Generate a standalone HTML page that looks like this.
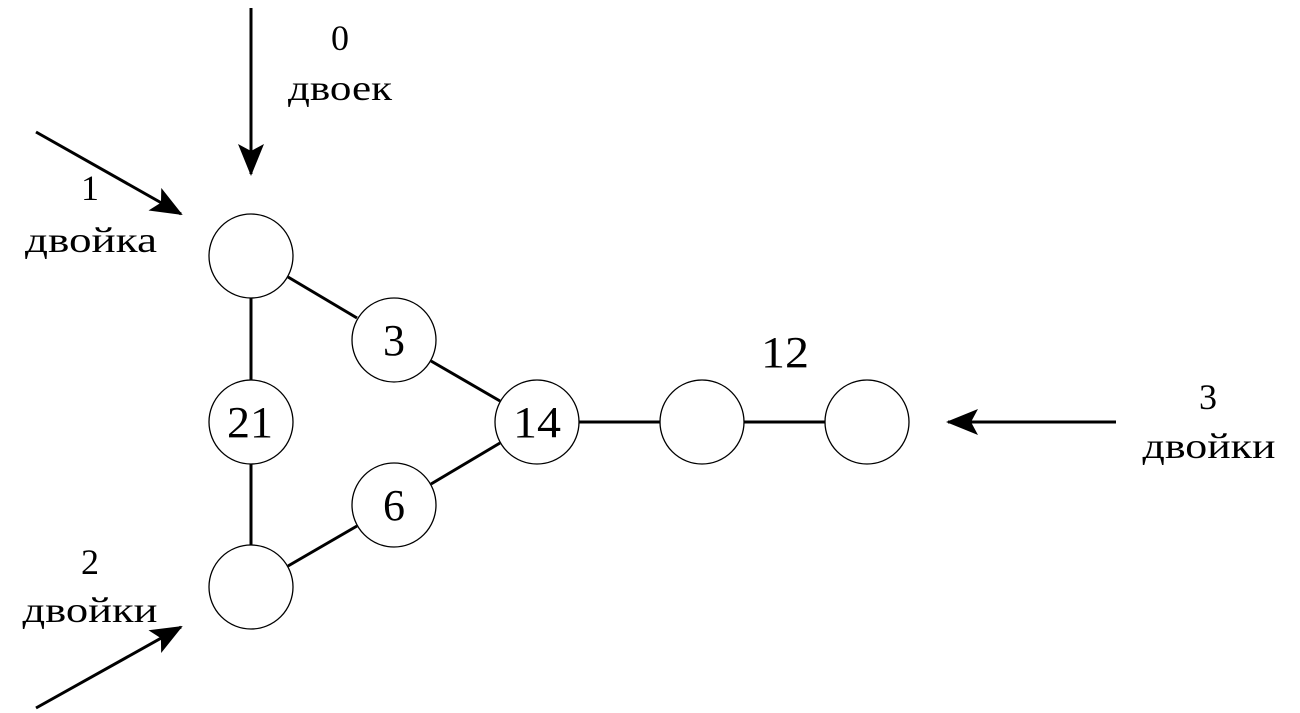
<!DOCTYPE html>
<html><head><meta charset="utf-8"><style>
html,body{margin:0;padding:0;background:#fff;}
svg{display:block;}
text{font-family:"Liberation Serif","DejaVu Serif",serif;fill:#000;}
</style></head><body>
<svg width="1300" height="713" viewBox="0 0 1300 713" xmlns="http://www.w3.org/2000/svg">
<defs>
<marker id="ah" viewBox="0 0 32 26" refX="30" refY="13" markerWidth="32" markerHeight="26" markerUnits="userSpaceOnUse" orient="auto">
<path d="M0,0 L32,13 L0,26 L7,13 Z" fill="#000"/>
</marker>
</defs>
<g stroke="#000" stroke-width="3" fill="none">
<line x1="251" y1="298" x2="251" y2="380"/>
<line x1="251" y1="464" x2="251" y2="545"/>
<line x1="288" y1="277" x2="357" y2="318"/>
<line x1="431" y1="361" x2="500" y2="401"/>
<line x1="288" y1="566" x2="357" y2="526"/>
<line x1="431" y1="484" x2="500" y2="443"/>
<line x1="579" y1="422" x2="660" y2="422"/>
<line x1="744" y1="422" x2="825" y2="422"/>
<line x1="251" y1="8" x2="251" y2="174" marker-end="url(#ah)"/>
<line x1="36" y1="132" x2="181" y2="214" marker-end="url(#ah)"/>
<line x1="36" y1="708" x2="181" y2="627" marker-end="url(#ah)"/>
<line x1="1116" y1="422" x2="948" y2="422" marker-end="url(#ah)"/>
</g>
<g stroke="#000" stroke-width="1.3" fill="#fff">
<circle cx="251" cy="256" r="42"/>
<circle cx="251" cy="422" r="42"/>
<circle cx="251" cy="587" r="42"/>
<circle cx="394" cy="340" r="42"/>
<circle cx="394" cy="505" r="42"/>
<circle cx="537" cy="422" r="42"/>
<circle cx="702" cy="422" r="42"/>
<circle cx="867" cy="422" r="42"/>
</g>
<g font-size="44" text-anchor="middle">
<text x="250" y="437" textLength="46" lengthAdjust="spacingAndGlyphs">21</text>
<text x="394" y="355">3</text>
<text x="394" y="520">6</text>
<text x="537" y="437" textLength="48" lengthAdjust="spacingAndGlyphs">14</text>
<text x="785" y="367" textLength="48" lengthAdjust="spacingAndGlyphs">12</text>
</g>
<g font-size="36" text-anchor="middle">
<text x="340" y="50">0</text>
<text x="340" y="100" textLength="104" lengthAdjust="spacingAndGlyphs">двоек</text>
<text x="90" y="200">1</text>
<text x="91" y="252" textLength="132" lengthAdjust="spacingAndGlyphs">двойка</text>
<text x="90" y="574">2</text>
<text x="90" y="622" textLength="135" lengthAdjust="spacingAndGlyphs">двойки</text>
<text x="1208" y="409">3</text>
<text x="1209" y="458" textLength="133" lengthAdjust="spacingAndGlyphs">двойки</text>
</g>
</svg>
</body></html>
